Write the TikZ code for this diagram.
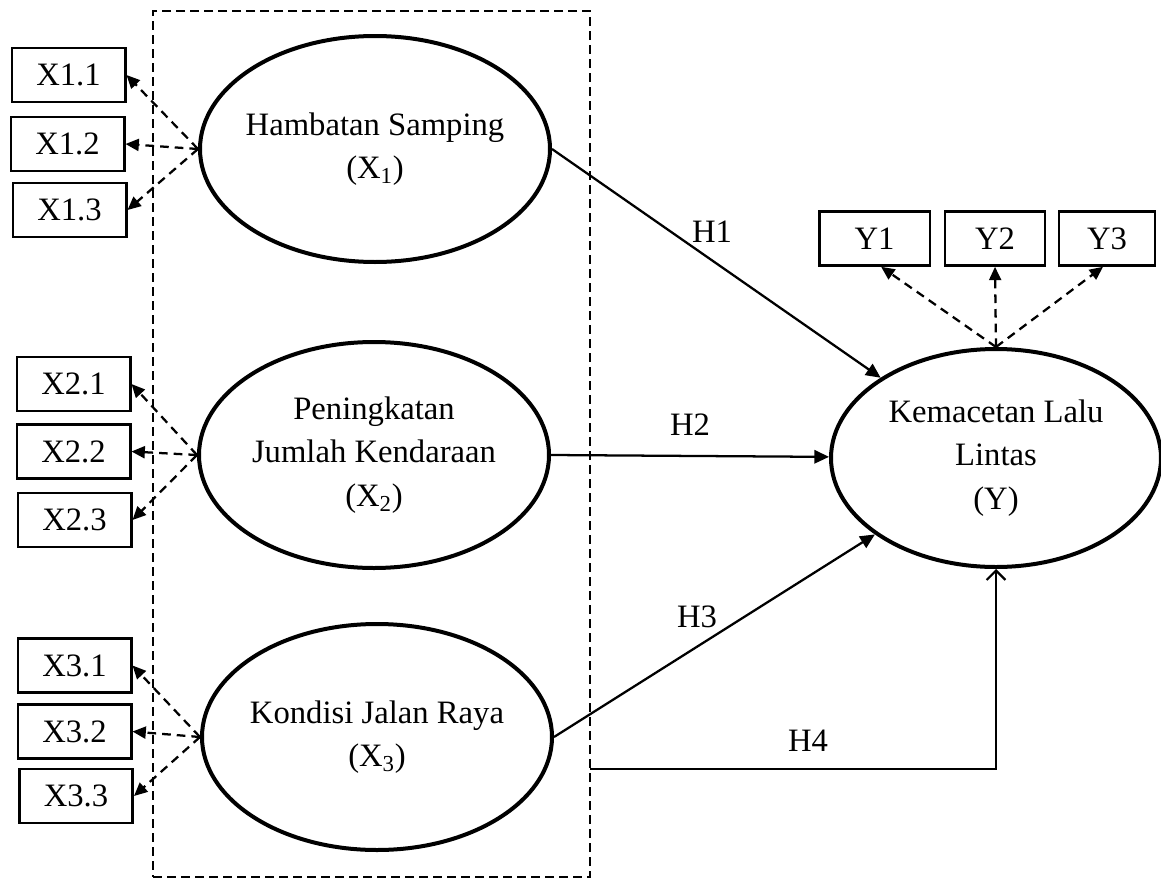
\documentclass[tikz,border=0pt]{standalone}
\usepackage{fontspec}
\setmainfont{Liberation Serif}
\usetikzlibrary{shapes.geometric,arrows.meta}
\begin{document}
\begin{tikzpicture}[x=0.75pt,y=-0.75pt,
  txt/.style={font=\fontsize{24.5}{32.5}\selectfont},
  ind/.style={txt,draw,line width=2pt,minimum height=40.5pt,minimum width=85pt,inner sep=0pt},
  lat/.style={txt,draw,ellipse,line width=3pt,inner xsep=-30pt,inner ysep=0pt,align=center,minimum width=262.5pt,minimum height=169.5pt},
  grpbox/.style={draw,dash pattern=on 6.5pt off 4pt,line width=1.8pt,inner sep=0pt,minimum width=327.75pt,minimum height=649.5pt},
  load/.style={dash pattern=on 6.5pt off 4.5pt,line width=1.7pt,-{Triangle[length=10pt,width=9pt]}},
  hyp/.style={line width=1.7pt,-{Triangle[length=11pt,width=10pt]}},
]
\useasboundingbox (0,0) rectangle (1161,882);

% group rectangle
\node[grpbox] (grp) at (371.5,444) {};

% latent variables
\node[lat] (x1) at (375,149) {Hambatan Samping\\(X\textsubscript{1})};
\node[lat] (x2) at (374,455) {Peningkatan\\Jumlah Kendaraan\\(X\textsubscript{2})};
\node[lat] (x3) at (377,737) {Kondisi Jalan Raya\\(X\textsubscript{3})};
\node[lat,minimum width=247.5pt,minimum height=163.5pt] (y) at (996,458) {Kemacetan Lalu\\Lintas\\(Y)};

% indicators
\node[ind] (x11) at (68.5,75) {X1.1};
\node[ind] (x12) at (67.5,144) {X1.2};
\node[ind] (x13) at (69.5,210) {X1.3};
\node[ind] (x21) at (73.5,384) {X2.1};
\node[ind] (x22) at (73.5,451.5) {X2.2};
\node[ind] (x23) at (74.5,520) {X2.3};
\node[ind] (x31) at (74.5,665.5) {X3.1};
\node[ind] (x32) at (74.5,731.5) {X3.2};
\node[ind] (x33) at (76,796) {X3.3};
\node[ind,minimum width=83pt] (y1) at (874.5,238.5) {Y1};
\node[ind,minimum width=75pt] (y2) at (995,238.5) {Y2};
\node[ind,minimum width=72pt] (y3) at (1107,238.5) {Y3};

% loadings
\foreach \a in {1,2,3}{
  \foreach \b in {1,2,3}{
    \draw[load] (x\a.west) -- (x\a\b.east);
  }
}
\draw[load] (y.north) -- ([xshift=5pt]y1.south);
\draw[load] (y.north) -- (y2.south);
\draw[load] (y.north) -- ([xshift=-3pt]y3.south);

% hypotheses
\draw[hyp] (x1.east) -- (y);
\draw[hyp] (x2.east) -- (y);
\draw[hyp] (x3.east) -- (y);
\coordinate (h4s) at (590,769);
\draw[line width=1.7pt,-{Straight Barb[length=7pt,width=14pt]}] (h4s) -| (y.south);

\node[txt] (h1) at (712,232) {H1};
\node[txt] (h2) at (690,425) {H2};
\node[txt] (h3) at (697,617) {H3};
\node[txt] (h4) at (808,741) {H4};
\end{tikzpicture}
\end{document}
